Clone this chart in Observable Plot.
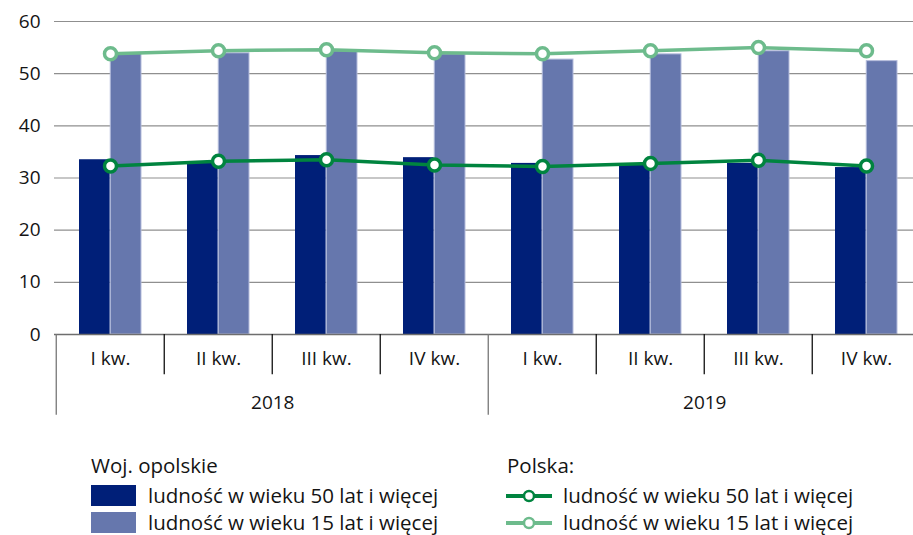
<!DOCTYPE html>
<html><head><meta charset="utf-8">
<script src="https://cdn.jsdelivr.net/npm/d3@7"></script>
<script src="https://cdn.jsdelivr.net/npm/@observablehq/plot@0.6"></script>
<style>
body{margin:0;background:#fff;font-family:"Open Sans",sans-serif;color:#141414;}
#wrap{position:relative;width:913px;height:535px;overflow:hidden}
#chart{position:absolute;left:0;top:0}
.lg{position:absolute;font-size:20.5px;line-height:21px;white-space:nowrap;display:flex;align-items:center}
.sw{display:inline-block;width:45px;height:21px;margin-right:12px}
.ls{margin-right:10px}
</style></head><body><div id="wrap"><div id="chart"></div>
<div class="lg" style="left:91px;top:455px">Woj. opolskie</div>
<div class="lg" style="left:91px;top:485px"><span class="sw" style="background:#001f78"></span>ludność w wieku 50 lat i więcej</div>
<div class="lg" style="left:91px;top:512px"><span class="sw" style="background:#6677ad"></span>ludność w wieku 15 lat i więcej</div>
<div class="lg" style="left:507px;top:455px">Polska:</div>
<div class="lg" style="left:505px;top:485px"><svg class="ls" width="48" height="20"><line x1="1" x2="47" y1="10" y2="10" stroke="#00843f" stroke-width="4"/><circle cx="24" cy="10" r="5" fill="#fff" stroke="#00843f" stroke-width="2.5"/></svg>ludność w wieku 50 lat i więcej</div>
<div class="lg" style="left:505px;top:512px"><svg class="ls" width="48" height="20"><line x1="1" x2="47" y1="10" y2="10" stroke="#6dbb8c" stroke-width="4"/><circle cx="24" cy="10" r="5" fill="#fff" stroke="#6dbb8c" stroke-width="2.5"/></svg>ludność w wieku 15 lat i więcej</div>
</div>
<script>
const years = ["2018", "2019"];
const quarters = ["I kw.", "II kw.", "III kw.", "IV kw."];
const yTicks = [0, 10, 20, 30, 40, 50, 60];
const opolskie50 = [33.5, 32.8, 34.3, 33.9, 32.8, 32.4, 32.8, 32.0];
const opolskie15 = [53.8, 53.9, 54.3, 53.7, 52.7, 53.7, 54.3, 52.4];
const polska50 = [32.3, 33.2, 33.5, 32.5, 32.2, 32.8, 33.4, 32.3];
const polska15 = [53.8, 54.4, 54.6, 54.0, 53.8, 54.4, 55.0, 54.4];

const cats = years.flatMap(y => quarters.map(q => q + "|" + y));
const rows = cats.map((c, i) => ({
  cat: c, quarter: c.split("|")[0], year: c.split("|")[1], qi: i % 4,
  o50: opolskie50[i], o15: opolskie15[i], p50: polska50[i], p15: polska15[i]
}));

const W = 913, H = 440, L = 54, bw = 108.5;
const font = "'Open Sans', sans-serif";
const chart = Plot.plot({
  width: W, height: H,
  marginLeft: L, marginRight: 0, marginTop: 21, marginBottom: H - 334,
  style: {fontFamily: font, fontSize: "19px", color: "#141414", background: "#fff", overflow: "visible"},
  x: {domain: cats, range: [L, L + 8 * bw], padding: 0, axis: null},
  y: {domain: [0, 60], range: [334, 21], axis: null},
  marks: [
    Plot.gridY(yTicks.filter(d => d > 0), {stroke: "#8f8f8f", strokeOpacity: 1, strokeWidth: 1.2}),
    Plot.axisY({ticks: yTicks, tickSize: 0, tickPadding: 14, label: null, fontSize: 19, fontFamily: font}),
    Plot.barY(rows, {x: "cat", y: "o50", fill: "#001f78", insetLeft: 23, insetRight: bw / 2}),
    Plot.barY(rows, {x: "cat", y: "o15", fill: "#6677ad", stroke: "#b4bcdb", strokeWidth: 1, insetLeft: bw / 2, insetRight: 23}),
    Plot.ruleY([0], {stroke: "#6e6e6e", strokeWidth: 1.5}),
    Plot.ruleX(rows.filter(d => d.qi !== 0), {x: "cat", dx: -bw / 2, y1: 0, y2: -7.7, stroke: "#111", strokeWidth: 1.3}),
    Plot.ruleX(rows.filter(d => d.qi === 0), {x: "cat", dx: -bw / 2, y1: 0, y2: -15.5, stroke: "#777", strokeWidth: 1.3}),
    Plot.axisX({tickFormat: d => d.split("|")[0], tickSize: 0, tickPadding: 17, label: null, fontSize: 19, fontFamily: font}),
    Plot.text(rows.filter(d => d.qi === 1), {x: "cat", text: "year", dx: bw / 2, frameAnchor: "bottom", dy: 68, lineAnchor: "middle", fontSize: 19, fontFamily: font}),
    Plot.lineY(rows, {x: "cat", y: "p15", stroke: "#6dbb8c", strokeWidth: 3.5}),
    Plot.lineY(rows, {x: "cat", y: "p50", stroke: "#00843f", strokeWidth: 3.5}),
    Plot.dot(rows, {x: "cat", y: "p15", r: 6, fill: "#fff", stroke: "#6dbb8c", strokeWidth: 3.5}),
    Plot.dot(rows, {x: "cat", y: "p50", r: 6, fill: "#fff", stroke: "#00843f", strokeWidth: 3.5})
  ]
});
document.getElementById("chart").appendChild(chart);
</script>
</body></html>
